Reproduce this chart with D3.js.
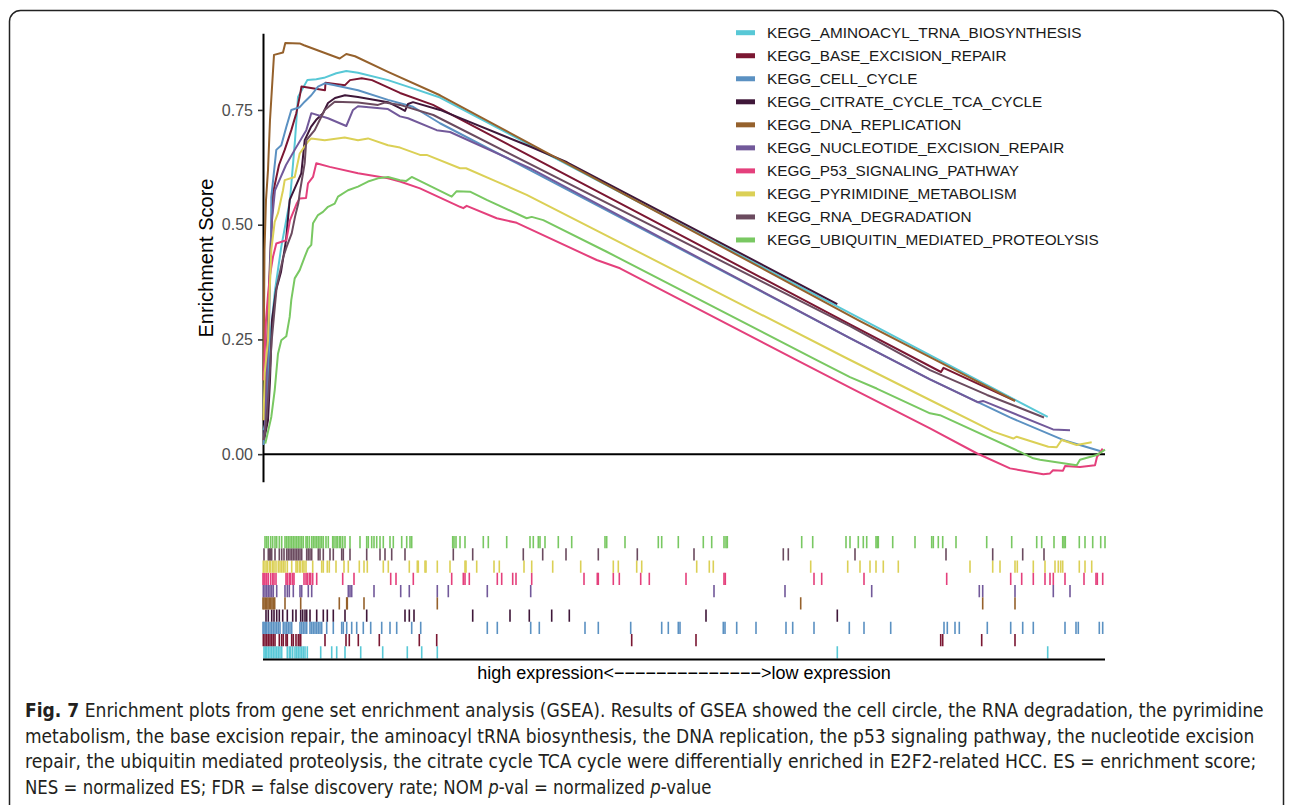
<!DOCTYPE html>
<html>
<head>
<meta charset="utf-8">
<script src="https://cdn.jsdelivr.net/npm/d3@7"></script>
<style>
  body { margin: 0; background: #fff; }
  svg { display: block; }
</style>
</head>
<body>
<svg id="chart" width="1290" height="805"></svg>
<script>
// gene sets, in legend order
const geneSets = [
  "KEGG_AMINOACYL_TRNA_BIOSYNTHESIS",
  "KEGG_BASE_EXCISION_REPAIR",
  "KEGG_CELL_CYCLE",
  "KEGG_CITRATE_CYCLE_TCA_CYCLE",
  "KEGG_DNA_REPLICATION",
  "KEGG_NUCLEOTIDE_EXCISION_REPAIR",
  "KEGG_P53_SIGNALING_PATHWAY",
  "KEGG_PYRIMIDINE_METABOLISM",
  "KEGG_RNA_DEGRADATION",
  "KEGG_UBIQUITIN_MEDIATED_PROTEOLYSIS"
];
const setColors = ["#58c8d6", "#7b1732", "#5b91c2", "#3f1739", "#95612c",
                   "#72599a", "#e4407c", "#dbd056", "#6b4b5f", "#79c862"];

const yTicks = [0, 0.25, 0.5, 0.75];
const nGenes = 8420;

// running enrichment score, [rank, ES]
const esAminoacyl = [[5,0.052],[33,0.074],[70,0.248],[120,0.357],[183,0.452],[270,0.554],[320,0.684],[350,0.778],[443,0.815],[533,0.817],[610,0.820],[733,0.830],[833,0.835],[950,0.831],[1250,0.815],[1500,0.797],[1770,0.777],[7847,0.081]];
const esBaseExcision = [[5,0.074],[30,0.161],[50,0.292],[70,0.423],[90,0.521],[100,0.569],[160,0.630],[217,0.663],[283,0.706],[333,0.743],[367,0.779],[385,0.801],[620,0.793],[625,0.809],[820,0.804],[870,0.815],[987,0.819],[1090,0.815],[1370,0.787],[1700,0.761],[5870,0.283],[6780,0.179],[6805,0.188],[7520,0.116]];
const esCellCycle = [[5,0.020],[30,0.074],[50,0.161],[60,0.270],[70,0.379],[80,0.466],[83,0.560],[133,0.663],[183,0.673],[233,0.713],[283,0.750],[367,0.756],[417,0.768],[483,0.782],[550,0.801],[617,0.808],[717,0.804],[950,0.793],[1250,0.772],[1500,0.757],[1770,0.721],[2670,0.619],[5870,0.253],[6670,0.163],[7170,0.111],[7470,0.080],[8000,0.031],[8370,0.007]];
const esCitrate = [[10,0.031],[50,0.074],[70,0.161],[90,0.292],[130,0.357],[180,0.397],[230,0.466],[267,0.554],[383,0.612],[417,0.684],[480,0.713],[530,0.728],[600,0.743],[650,0.765],[720,0.776],[820,0.782],[950,0.778],[1250,0.767],[1370,0.754],[1420,0.748],[1450,0.763],[1500,0.767],[1770,0.750],[2640,0.673],[3040,0.636],[5743,0.327]];
const esDnaReplication = [[5,0.161],[15,0.445],[30,0.554],[50,0.619],[70,0.728],[110,0.870],[200,0.875],[223,0.896],[367,0.895],[410,0.891],[767,0.862],[833,0.872],[920,0.867],[1250,0.833],[1770,0.782],[5970,0.290],[7520,0.116]];
const esNucleotide = [[10,0.031],[30,0.118],[50,0.270],[70,0.401],[90,0.510],[120,0.575],[150,0.590],[230,0.630],[317,0.663],[433,0.706],[483,0.743],[650,0.732],[833,0.715],[900,0.750],[950,0.758],[1250,0.752],[1370,0.736],[1450,0.732],[1737,0.706],[1870,0.702],[2670,0.623],[5870,0.253],[6670,0.163],[7150,0.113],[7200,0.116],[7900,0.054],[8070,0.052]];
const esP53 = [[5,0.161],[10,0.183],[30,0.292],[50,0.347],[70,0.390],[100,0.430],[133,0.459],[233,0.466],[270,0.510],[337,0.546],[367,0.557],[430,0.558],[450,0.590],[500,0.604],[533,0.634],[667,0.626],[950,0.612],[1250,0.601],[1370,0.594],[1570,0.579],[1970,0.539],[2003,0.536],[2037,0.541],[2337,0.514],[2537,0.504],[3337,0.423],[3570,0.405],[5337,0.205],[5870,0.145],[6670,0.056],[7137,0.002],[7470,-0.031],[7803,-0.044],[7870,-0.042],[7900,-0.035],[8000,-0.036],[8020,-0.026],[8170,-0.028],[8320,-0.024],[8340,-0.006],[8397,0.012]];
const esPyrimidine = [[5,0.074],[17,0.177],[50,0.248],[67,0.357],[83,0.445],[117,0.506],[150,0.525],[200,0.575],[217,0.597],[317,0.604],[367,0.655],[450,0.681],[483,0.688],[617,0.684],[817,0.690],[950,0.684],[1050,0.688],[1250,0.673],[1370,0.668],[1570,0.652],[1637,0.652],[1970,0.623],[2030,0.623],[2337,0.594],[2637,0.565],[5837,0.209],[6670,0.118],[7303,0.049],[7503,0.034],[7537,0.038],[7853,0.016],[7937,0.015],[7987,0.031],[8137,0.020],[8287,0.026]];
const esRnaDegradation = [[5,0.031],[20,0.046],[50,0.118],[87,0.248],[137,0.365],[203,0.430],[237,0.452],[287,0.481],[320,0.517],[353,0.546],[367,0.569],[417,0.634],[433,0.684],[517,0.706],[567,0.728],[617,0.750],[717,0.768],[950,0.766],[1150,0.761],[1217,0.766],[1370,0.761],[1703,0.739],[5870,0.279],[6670,0.183],[7240,0.129],[7810,0.080]];
const esUbiquitin = [[23,0.023],[83,0.081],[117,0.139],[150,0.219],[183,0.248],[233,0.257],[267,0.299],[283,0.336],[317,0.383],[367,0.401],[417,0.430],[450,0.448],[483,0.456],[500,0.503],[550,0.521],[600,0.528],[650,0.539],[717,0.546],[750,0.561],[850,0.575],[950,0.583],[1050,0.594],[1150,0.601],[1250,0.604],[1370,0.597],[1430,0.595],[1487,0.604],[1887,0.561],[1937,0.573],[2070,0.572],[2237,0.554],[2637,0.514],[2687,0.517],[2803,0.510],[3437,0.441],[5537,0.205],[5870,0.168],[6137,0.143],[6670,0.089],[6770,0.085],[7570,0.005],[7703,-0.009],[7770,-0.012],[8003,-0.020],[8137,-0.024],[8170,-0.012],[8337,-0.002],[8420,0.010]];

// gene hit ranks for the rug
const hitsAminoacyl = [10,23,37,53,70,87,103,120,137,153,170,187,243,263,277,297,320,337,353,370,387,403,420,443,577,687,737,820,977,1197,1443,1587,1743,5743,7847];
const hitsBaseExcision = [3,20,37,53,70,87,103,120,163,187,203,230,243,287,303,330,353,370,377,620,830,863,953,1163,1563,1737,3687,4330,6777,6797,7187,7520];
const hitsCellCycle = [0,10,23,37,53,70,87,103,120,137,153,170,203,220,237,253,270,287,370,387,403,420,437,470,487,503,520,537,553,570,587,637,703,787,803,837,887,937,1003,1077,1187,1270,1337,1487,1577,2243,2343,2677,2763,3220,3353,3677,3987,4053,4153,4170,4603,4620,4737,4930,5230,5297,5510,5863,6010,6277,6810,6843,6920,6963,7243,7477,7597,7703,8020,8130,8153,8363,8397];
const hitsCitrate = [30,53,87,110,137,163,197,243,297,330,377,397,420,437,470,537,603,643,703,820,1037,1420,1463,1510,2097,2470,2663,2887,3063,4430,5743];
const hitsDnaReplication = [0,10,23,37,50,63,77,90,103,117,220,377,763,837,843,1010,1743,5377,7197,7520];
const hitsNucleotide = [3,20,37,53,70,87,103,137,220,243,263,303,370,387,453,487,853,870,887,1110,1377,1463,1743,1853,2243,2677,4510,5220,6087,7163,7197,7520,7903,8070];
const hitsP53 = [0,10,20,37,53,77,97,110,130,230,243,263,277,297,310,410,430,443,463,477,497,537,797,910,1277,1330,1503,1887,2003,2020,2063,2343,2387,2497,2530,2687,3210,3343,3353,3503,3563,3777,3863,4230,4610,4623,5510,5587,6010,6837,7477,7587,7703,7820,7870,7903,8020,8210,8330,8343,8397];
const hitsPyrimidine = [3,10,30,43,63,77,97,110,130,153,170,187,203,220,243,287,330,343,363,377,397,410,430,497,587,603,643,663,730,810,853,963,1010,1043,1203,1253,1463,1543,1553,1620,1630,1743,1870,2020,2030,2137,2310,2363,2610,2687,2897,3177,3503,3553,3737,3787,4337,4463,4503,5477,5847,5970,6070,6130,6203,6353,7070,7297,7370,7520,7543,7703,7820,7920,7953,7977,7997,8163,8220,8287];
const hitsRnaDegradation = [10,53,63,77,87,120,163,187,210,237,253,270,287,303,320,337,353,370,387,437,453,470,487,553,570,603,670,703,787,803,870,1037,1170,1220,1287,1420,1903,2097,2603,2797,3030,3353,3743,4310,5203,5253,5920,6830,7297,7597,7810];
const hitsUbiquitin = [20,37,53,77,97,120,137,163,187,220,237,253,270,287,303,320,337,353,370,387,403,430,443,463,487,503,520,537,553,570,587,603,630,653,697,710,730,743,763,777,797,820,870,970,1037,1053,1087,1110,1137,1170,1203,1270,1303,1387,1437,1470,1487,1897,1910,1930,1970,2020,2203,2253,2437,2670,2703,2753,2770,2820,2953,3087,3420,3437,3620,3953,3987,4153,4403,4487,4610,4630,4643,5387,5497,5830,5870,5953,6003,6037,6130,6143,6153,6297,6520,6687,6703,6753,6797,6930,7237,7487,7737,7787,7910,7997,8010,8023,8163,8220,8297,8377,8420];

const curves = [esAminoacyl, esBaseExcision, esCellCycle, esCitrate, esDnaReplication,
                esNucleotide, esP53, esPyrimidine, esRnaDegradation, esUbiquitin];
const hits = [hitsAminoacyl, hitsBaseExcision, hitsCellCycle, hitsCitrate, hitsDnaReplication,
              hitsNucleotide, hitsP53, hitsPyrimidine, hitsRnaDegradation, hitsUbiquitin];

// caption, each line is a list of [text, style] pieces
const captionLines = [
  [["Fig. 7", "b"], [" Enrichment plots from gene set enrichment analysis (GSEA). Results of GSEA showed the cell circle, the RNA degradation, the pyrimidine", ""]],
  [["metabolism, the base excision repair, the aminoacyl tRNA biosynthesis, the DNA replication, the p53 signaling pathway, the nucleotide excision", ""]],
  [["repair, the ubiquitin mediated proteolysis, the citrate cycle TCA cycle were differentially enriched in E2F2-related HCC. ES = enrichment score;", ""]],
  [["NES = normalized ES; FDR = false discovery rate; NOM ", ""], ["p", "i"], ["-val = normalized ", ""], ["p", "i"], ["-value", ""]]
];
const captionWidths = [1240, 1230, 1232, 687];
const captionY = [717, 743, 768, 794];

const svg = d3.select("#chart");
const font = "'Liberation Sans', Arial, Helvetica, sans-serif";

// figure frame
svg.append("rect")
  .attr("x", 9.5).attr("y", 10.5)
  .attr("width", 1274).attr("height", 820)
  .attr("rx", 11).attr("ry", 11)
  .attr("fill", "none").attr("stroke", "#222").attr("stroke-width", 1.5);

const x = d3.scaleLinear().domain([0, nGenes]).range([263, 1105]);
const y = d3.scaleLinear().domain([-0.06, 0.917]).range([481.7, 33.3]);

// y axis
const yAxis = svg.append("g")
  .attr("transform", "translate(263,0)")
  .call(d3.axisLeft(y).tickValues(yTicks).tickFormat(d3.format(".2f"))
    .tickSize(5).tickSizeOuter(0).tickPadding(5));
yAxis.select(".domain").attr("stroke", "#000").attr("stroke-width", 2);
yAxis.selectAll(".tick line").attr("stroke", "#333").attr("stroke-width", 1.6);
yAxis.selectAll(".tick text")
  .attr("font-family", font).attr("font-size", 16).attr("fill", "#4d4d4d");

svg.append("text")
  .attr("transform", "translate(213,258) rotate(-90)")
  .attr("text-anchor", "middle")
  .attr("font-family", font).attr("font-size", 20).attr("fill", "#000")
  .text("Enrichment Score");

// zero line
svg.append("line")
  .attr("x1", x(0)).attr("x2", x(nGenes))
  .attr("y1", y(0)).attr("y2", y(0))
  .attr("stroke", "#000").attr("stroke-width", 2);

// ES curves
const line = d3.line().x(d => x(d[0])).y(d => y(d[1]));
svg.append("g").selectAll("path")
  .data(curves)
  .join("path")
  .attr("d", line)
  .attr("fill", "none")
  .attr("stroke", (d, i) => setColors[i])
  .attr("stroke-width", 2)
  .attr("stroke-linejoin", "round");

// legend
const legend = svg.append("g");
geneSets.forEach((name, i) => {
  const ly = 32.7 + i * 23.03;
  legend.append("rect")
    .attr("x", 736).attr("y", ly - 2.5)
    .attr("width", 19).attr("height", 5)
    .attr("fill", setColors[i]);
  legend.append("text")
    .attr("x", 767).attr("y", ly)
    .attr("dominant-baseline", "central")
    .attr("font-family", font).attr("font-size", 15.3).attr("fill", "#1a1a1a")
    .text(name);
});

// rug of hits, top row = last gene set
const band = d3.scaleBand()
  .domain(geneSets.slice().reverse())
  .range([536, 658.5]);
const rug = svg.append("g");
geneSets.forEach((name, i) => {
  rug.append("g").selectAll("rect")
    .data(hits[i])
    .join("rect")
    .attr("x", d => x(d) - 0.8)
    .attr("width", 1.6)
    .attr("y", band(name))
    .attr("height", band.bandwidth())
    .attr("fill", setColors[i]);
});
svg.append("line")
  .attr("x1", x(0)).attr("x2", x(nGenes))
  .attr("y1", 659.5).attr("y2", 659.5)
  .attr("stroke", "#000").attr("stroke-width", 2);

svg.append("text")
  .attr("x", 684).attr("y", 679)
  .attr("text-anchor", "middle")
  .attr("font-family", font).attr("font-size", 18).attr("fill", "#000")
  .text("high expression<\u2212\u2212\u2212\u2212\u2212\u2212\u2212\u2212\u2212\u2212\u2212\u2212\u2212\u2212>low expression");

// caption: each line drawn at natural width, then squeezed horizontally to fit
const capFont = "'DejaVu Sans Condensed', 'Liberation Sans Narrow', 'Open Sans', sans-serif";
captionLines.forEach((pieces, i) => {
  const g = svg.append("g");
  const tx = g.append("text")
    .attr("x", 0).attr("y", 0)
    .attr("font-family", capFont).attr("font-size", 19.5).attr("fill", "#231f20");
  pieces.forEach(([t, s]) => {
    tx.append("tspan")
      .attr("font-weight", s === "b" ? "bold" : null)
      .attr("font-style", s === "i" ? "italic" : null)
      .text(t);
  });
  const w = tx.node().getComputedTextLength();
  g.attr("transform", `translate(25,${captionY[i]}) scale(${captionWidths[i] / w},1)`);
});
</script>
</body>
</html>
